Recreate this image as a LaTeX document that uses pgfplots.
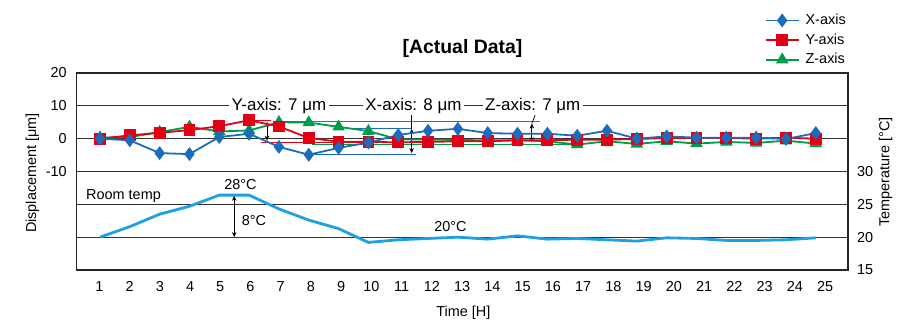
\documentclass[border=0pt]{standalone}
\usepackage{pgfplots}
\pgfplotsset{compat=1.18}
\usetikzlibrary{arrows.meta}
\usepackage{fontspec}
\setmainfont{Liberation Sans}
\definecolor{cX}{RGB}{28,108,188}
\definecolor{cY}{RGB}{228,0,20}
\definecolor{cZ}{RGB}{0,155,72}
\definecolor{cT}{RGB}{30,160,230}
\newcommand\fs{\fontsize{14.5}{17}\selectfont}
\newcommand\fa{\fontsize{17}{20}\selectfont}
\tikzset{dbl/.style={black, line width=0.9bp, {Stealth[length=5bp,width=4.5bp]}-{Stealth[length=5bp,width=4.5bp]}}}
\begin{document}
\fs
\begin{tikzpicture}
\path[use as bounding box] (-76.7bp,-53bp) rectangle (823.3bp,270bp);
\begin{axis}[
  at={(0bp,0bp)}, anchor=south west,
  width=771.3bp, height=197bp, scale only axis,
  xmin=0.219, xmax=26.08, ymin=-40, ymax=20,
  clip=false,
  xtick={0.977,1.991,3.005,4.019,5.032,6.046,7.060,8.074,9.088,10.102,11.116,12.129,13.143,14.157,15.171,16.185,17.199,18.213,19.227,20.240,21.254,22.268,23.282,24.296,25.310},
  xticklabels={1,2,3,4,5,6,7,8,9,10,11,12,13,14,15,16,17,18,19,20,21,22,23,24,25},
  ytick={-40,-30,-20,-10,0,10,20},
  yticklabels={,,,-10,0,10,20},
  ymajorgrids, grid style={black!80, line width=0.9bp},
  major tick length=0pt,
  axis line style={black!85, line width=1.2bp},
  tick label style={font=\fs},
  xticklabel style={anchor=base, yshift=-21bp},
  yticklabel style={xshift=-5bp},
  reverse legend,
  legend style={at={(rel axis cs:0.888,1.32)}, anchor=north west, draw=none, fill=none,
    font=\fs, row sep=3bp, cells={anchor=west},
    /tikz/every odd column/.append style={column sep=4bp}},
  legend image code/.code={\draw[mark repeat=2,mark phase=2,#1] plot coordinates {(0bp,0bp) (16.5bp,0bp) (33bp,0bp)};},
]
% annotation lines
\draw[cY, line width=0.9bp] (axis cs:5.95,5.6) -- (axis cs:6.75,5.6);
\draw[cY, line width=0.9bp] (axis cs:6.4,-1.25) -- (axis cs:12.2,-1.25);
\draw[cZ, line width=0.9bp] (axis cs:6.9,5.1) -- (axis cs:15.75,5.1);
\draw[cZ, line width=0.9bp] (axis cs:8.1,-1.7) -- (axis cs:17.0,-1.7);
\draw[cX, line width=0.9bp] (axis cs:9.5,3.0) -- (axis cs:11.45,3.0);
\draw[cX, line width=0.9bp] (axis cs:8.0,-4.7) -- (axis cs:11.6,-4.7);
\draw[dbl] (axis cs:6.6,5.1) -- (axis cs:6.6,-0.6);
\draw[black, line width=0.7bp] (axis cs:11.45,8.0) -- (axis cs:11.45,3.0);
\draw[dbl] (axis cs:11.45,3.0) -- (axis cs:11.45,-4.4);
\draw[black, line width=0.7bp] (axis cs:15.62,8.0) -- (axis cs:15.48,4.6);
\draw[dbl] (axis cs:15.48,4.6) -- (axis cs:15.48,-1.1);
\node[fill=white, inner xsep=2.5bp, inner ysep=1bp, font=\fa] at (axis cs:7.0,10) {Y-axis: 7 μm};
\node[fill=white, inner xsep=2.5bp, inner ysep=1bp, font=\fa] at (axis cs:11.51,10) {X-axis: 8 μm};
\node[fill=white, inner xsep=2.5bp, inner ysep=1bp, font=\fa] at (axis cs:15.51,10) {Z-axis: 7 μm};
% data
\addplot[color=cZ, line width=1.8bp, mark=triangle*, mark size=5.5bp, mark options={solid, fill=cZ}] coordinates {
(1,0.3) (2,0.5) (3,2.0) (4,3.6) (5,2.2) (6,2.5) (7,5.0) (8,4.9) (9,3.6) (10,2.3)
(11,-0.2) (12,-0.3) (13,-0.4) (14,-0.5) (15,-0.5) (16,-0.8) (17,-1.8) (18,-0.8) (19,-1.6) (20,-0.8)
(21,-1.5) (22,-1.0) (23,-1.3) (24,-0.6) (25,-1.5)};
\addlegendentry{Z-axis}
\addplot[color=cY, line width=1.8bp, mark=square*, mark size=5bp, mark options={solid, fill=cY}] coordinates {
(1,0) (2,1.0) (3,1.8) (4,2.6) (5,3.8) (6,5.6) (7,3.7) (8,0.2) (9,-0.9) (10,-1.0)
(11,-1.1) (12,-1.0) (13,-0.8) (14,-0.8) (15,-0.5) (16,-0.5) (17,-0.3) (18,-0.3) (19,-0.1) (20,0.2)
(21,0.2) (22,0.2) (23,0) (24,0.3) (25,0)};
\addlegendentry{Y-axis}
\addplot[color=cX, line width=1.8bp, mark=diamond*, mark size=5.5bp, mark options={solid, fill=cX}] coordinates {
(1,0) (2,-0.5) (3,-4.4) (4,-4.7) (5,0.5) (6,1.5) (7,-2.5) (8,-4.9) (9,-2.8) (10,-1.2)
(11,1.1) (12,2.4) (13,3.0) (14,1.7) (15,1.5) (16,1.5) (17,0.9) (18,2.4) (19,0) (20,0.7)
(21,0.3) (22,0.3) (23,0.3) (24,-0.1) (25,1.7)};
\addlegendentry{X-axis}
\end{axis}
\begin{axis}[
  at={(0bp,0bp)}, anchor=south west,
  width=771.3bp, height=197bp, scale only axis,
  xmin=0.219, xmax=26.08, ymin=15, ymax=45,
  clip=false,
  axis x line=none, axis y line*=right,
  ytick={15,20,25,30}, yticklabels={15,20,25,30},
  major tick length=0pt,
  axis line style={black!85, line width=1.2bp},
  tick label style={font=\fs},
  yticklabel style={xshift=4bp},
]
\addplot[color=cT, line width=2.8bp, mark=none] coordinates {
(1,20.0) (2,21.6) (3,23.5) (4,24.7) (5,26.4) (6,26.4) (7,24.3) (8,22.6) (9,21.3) (10,19.2)
(11,19.6) (12,19.8) (13,20.0) (14,19.7) (15,20.2) (16,19.7) (17,19.8) (18,19.6) (19,19.4) (20,19.9)
(21,19.8) (22,19.5) (23,19.5) (24,19.6) (25,19.9)};
\draw[dbl] (axis cs:5.5,20) -- (axis cs:5.5,26.3);
\node[anchor=base west, font=\fs, inner sep=0pt] at (axis cs:0.53,25.78) {Room temp};
\node[anchor=base, font=\fs] at (axis cs:5.71,27.2) {28°C};
\node[anchor=base west, font=\fs, inner sep=0pt] at (axis cs:5.75,21.8) {8°C};
\node[anchor=base, font=\fs] at (axis cs:12.75,20.9) {20°C};
\end{axis}
\node[anchor=base, font=\bfseries\fontsize{19.5}{22}\selectfont] at (385.8bp,216bp) {[Actual Data]};
\node[anchor=base, font=\fs] at (386.6bp,-46.5bp) {Time [H]};
\node[rotate=90, font=\fs] at (-44.2bp,97bp) {Displacement [μm]};
\node[rotate=90, font=\fs] at (809bp,98bp) {Temperature [°C]};
\end{tikzpicture}
\end{document}
